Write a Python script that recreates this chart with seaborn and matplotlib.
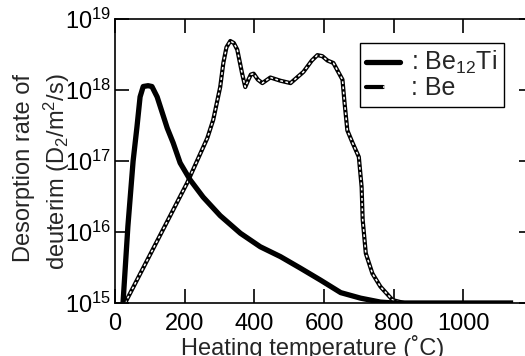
import numpy as np
import pandas as pd
import matplotlib
matplotlib.use("Agg")
import matplotlib.pyplot as plt
import seaborn as sns
from matplotlib.legend_handler import HandlerTuple
from matplotlib.lines import Line2D

# ---- data ----
be12ti_T = [23, 37, 52, 63, 72, 81, 95, 106, 121, 150, 167, 187, 216, 253, 302, 360,
            417, 475, 532, 590, 648, 705, 762, 800, 900, 1000, 1143]
be12ti_R = [1e15, 1.2e16, 1e17, 3e17, 8e17, 1.12e18, 1.15e18, 1.12e18, 8e17, 2.9e17,
            1.8e17, 9.4e16, 5.4e16, 3.1e16, 1.7e16, 9.6e15, 6.2e15, 4.5e15, 3.1e15,
            2.1e15, 1.4e15, 1.17e15, 1.03e15, 1.0e15, 1.0e15, 1.0e15, 1.0e15]

be_T = [29, 207, 265, 282, 302, 311, 320, 331, 341, 351, 365, 374, 383, 390, 398,
        410, 423, 446, 475, 504, 541, 565, 581, 595, 610, 627, 653, 659, 667, 682,
        700, 708, 711, 720, 739, 762, 797, 830]
be_R = [1e15, 4.9e16, 2.1e17, 3.8e17, 1.1e18, 2.4e18, 4.0e18, 4.9e18, 4.6e18, 3.7e18,
        1.7e18, 1.1e18, 1.4e18, 1.65e18, 1.7e18, 1.4e18, 1.25e18, 1.5e18, 1.35e18,
        1.25e18, 1.8e18, 2.6e18, 3.1e18, 3.0e18, 2.6e18, 2.4e18, 1.4e18, 6.6e17,
        2.7e17, 1.8e17, 1.14e17, 4.3e16, 1.5e16, 5e15, 2.6e15, 1.7e15, 1.1e15, 1.0e15]

x_ticks = [0, 200, 400, 600, 800, 1000]
y_ticks = [1e15, 1e16, 1e17, 1e18, 1e19]
labels = [": Be$_{12}$Ti", ": Be"]

sns.set_style("ticks")
plt.rcParams['font.family'] = ['Liberation Sans', 'DejaVu Sans']
plt.rcParams['mathtext.fontset'] = 'custom'
plt.rcParams['mathtext.rm'] = 'Liberation Sans'
plt.rcParams['mathtext.it'] = 'Liberation Sans:italic'
plt.rcParams['mathtext.bf'] = 'Liberation Sans:bold'

fig = plt.figure(figsize=(5.25, 3.56), dpi=100)
ax = fig.add_axes([115/525, 53/356, 418/525, 284/356])

df_ti = pd.DataFrame({"T": be12ti_T, "R": be12ti_R})
df_be = pd.DataFrame({"T": be_T, "R": be_R})

sns.lineplot(data=df_be, x="T", y="R", ax=ax, color="black", lw=3.0,
             sort=False, estimator=None)
sns.lineplot(data=df_be, x="T", y="R", ax=ax, color="white", lw=1.1,
             sort=False, estimator=None)
ax.lines[-1].set_dashes([1.8, 1.6])
sns.lineplot(data=df_ti, x="T", y="R", ax=ax, color="black", lw=3.8,
             sort=False, estimator=None, solid_capstyle='butt')

ax.set_yscale("log")
ax.set_xlim(0, 1200)
ax.set_ylim(1e15, 1e19)
ax.set_xticks(x_ticks)
ax.set_yticks(y_ticks)
ax.yaxis.set_minor_locator(matplotlib.ticker.NullLocator())
ax.set_xlabel("")
ax.set_ylabel("")

for s in ax.spines.values():
    s.set_linewidth(1.2)
    s.set_color("black")
ax.tick_params(axis='both', which='major', direction='in', length=10, width=1.2,
               labelsize=17, colors='black', top=True, right=True)
ax.tick_params(axis='x', pad=7)
ax.tick_params(axis='y', pad=3)

# legend
h_ti = Line2D([], [], color='black', lw=3.8)
h_be_b = Line2D([], [], color='black', lw=3.0)
h_be_w = Line2D([], [], color='white', lw=1.1, dashes=[1.8, 1.6])
leg = fig.legend([h_ti, (h_be_b, h_be_w)], labels,
                 handler_map={tuple: HandlerTuple(ndivide=None, pad=0)},
                 loc='upper left', bbox_to_anchor=(360/525, 1 - 43/356),
                 fontsize=18, frameon=True, fancybox=False, edgecolor='black',
                 framealpha=1, handlelength=1.35, handletextpad=0.45,
                 borderpad=0.25, labelspacing=0.0, borderaxespad=0)
leg.get_frame().set_linewidth(1.0)

fig.text(24/525, 1 - 168/356, "Desorption rate of", rotation=90, fontsize=17,
         ha='center', va='center')
fig.text(57/525, 1 - 172/356, "deuterim (D$_2$/m$^2$/s)", rotation=90, fontsize=17,
         ha='center', va='center')
fig.text(313/525, 1 - 347/356, "Heating temperature (\u02daC)", fontsize=17,
         ha='center', va='center')

fig.savefig("out.png", dpi=100)
